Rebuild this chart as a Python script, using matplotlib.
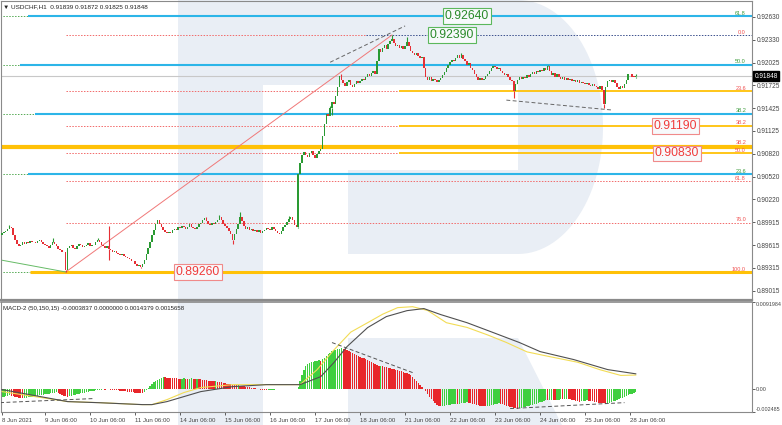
import matplotlib
matplotlib.use("Agg")
import matplotlib.pyplot as plt
import matplotlib.transforms as mtransforms
from matplotlib.patches import Polygon, Rectangle
import numpy as np

plt.rcParams['font.family'] = ['Liberation Sans', 'DejaVu Sans']

# USDCHF H1 closes (1e-4 units), 8 Jun 07:00 .. 28 Jun 09:00, one row per 06:00 tick
closes = [
    8977, 8979, 8980, 8983, 8986, 8984, 8975, 8968, 8963, 8960, 8962, 8965, 8963,
    8966, 8964, 8967, 8965, 8966, 8964, 8967, 8968, 8966, 8963,
    8962, 8960, 8958, 8962, 8966, 8963, 8960, 8957, 8955, 8953, 8952, 8928, 8958,
    8960, 8962, 8958, 8957, 8960, 8963, 8961, 8959, 8960, 8962, 8964,
    8960, 8962, 8961, 8965, 8968, 8966, 8962, 8960, 8958, 8960, 8957,
    8955, 8953, 8954, 8951, 8950, 8949, 8950, 8947, 8946, 8944, 8943, 8941, 8940,
    8937, 8934, 8935, 8933, 8936, 8942, 8950, 8958, 8966, 8975, 8982, 8990, 8995,
    8990, 8986, 8982, 8979, 8977, 8979, 8978, 8981, 8983, 8982, 8985,
    8984, 8987, 8986, 8983, 8986, 8989, 8986, 8984, 8983, 8986, 8989, 8991,
    8994, 8997, 8993, 8990, 8988, 8991, 8989, 8992, 8995, 8998, 8994, 8990,
    8987, 8984, 8980, 8976, 8968, 8976, 8983, 8990, 8999, 8993, 8987, 8983, 8985, 8981,
    8983, 8980, 8982, 8979, 8981, 8978, 8980, 8982, 8984, 8983,
    8982, 8985, 8983, 8980, 8978, 8976, 8980, 8985, 8988, 8992, 8996, 8999, 8994,
    8988, 8986, 9055, 9070, 9080, 9085, 9081, 9078, 9083, 9086, 9080,
    9077, 9082, 9086, 9088, 9105, 9122, 9135, 9132, 9142, 9150, 9148, 9158,
    9170, 9185, 9180, 9175, 9172, 9177, 9179, 9173, 9170, 9174, 9178, 9176,
    9178, 9181, 9179, 9184, 9187, 9185, 9189, 9192, 9188, 9205, 9220, 9216,
    9222, 9226, 9221, 9227, 9231, 9234, 9228, 9224, 9226, 9222, 9225, 9221,
    9224, 9230, 9225, 9218, 9215, 9213, 9215, 9211, 9208, 9210, 9196, 9183,
    9180, 9183, 9178, 9181, 9179, 9177, 9180, 9182, 9186, 9190, 9195, 9199,
    9203, 9206, 9204, 9209, 9212, 9208, 9213, 9207, 9204, 9200, 9202, 9196,
    9193, 9188, 9183, 9180, 9182, 9179, 9181, 9185, 9188, 9191, 9195, 9198,
    9197, 9194, 9196, 9192, 9189, 9186, 9188, 9183, 9180, 9178, 9165, 9174,
    9180, 9183, 9181, 9184, 9182, 9186, 9184, 9188, 9190, 9187, 9192, 9190,
    9193, 9191, 9195, 9193, 9198, 9191, 9186, 9189, 9184, 9188, 9183, 9181,
    9183, 9180, 9182, 9179, 9181, 9178, 9180, 9177, 9179, 9176, 9177, 9175,
    9174, 9176, 9173, 9171, 9174, 9172, 9170, 9168, 9171, 9167, 9148, 9170,
    9178, 9180, 9177, 9179, 9176, 9170, 9168, 9172, 9169, 9174, 9179, 9188,
    9187, 9184, 9183.9, 9184.8,
]
first_open = 8975
spike_highs = {4: 8988, 27: 8971, 51: 8971, 57: 8987, 109: 8999, 116: 9001, 127: 9005,
               153: 9000, 175: 9145, 181: 9188, 208: 9239, 216: 9236, 245: 9215,
               291: 9200, 338: 9187.2}
spike_lows = {34: 8926, 57: 8942, 74: 8931, 123: 8963, 158: 8984, 176: 9133,
              273: 9156, 321: 9143, 338: 9182.5}

# MACD-2 histogram (1e-4 units), one value per bar
macd_hist = [
    -9, -8.5, -8, -7.5, -7,
    -7.5, -8, -8.5, -9, -9.5, -10, -10.5,
    -10, -9.5, -9.3, -8.8, -8.6, -8.0, -7.8, -7.5, -7.0, -6.8, -6.5, -6.0, -5.9, -5.5, -5.0, -4.8, -4.5, -4.0,
    -4.5, -5.5, -6.5, -7.5, -8, -8.5,
    -8, -7.5, -7, -6.5, -6, -5.5, -5, -4.6, -4.2, -3.8, -3.4, -3, -2.6, -2.2, -1.8, -1.5, -1.2,
    -1, -0.8, -1, -0.7, -0.9, -1.1, -1.3,
    -1.5, -1.8, -2, -2.3, -2.5, -2.8, -3, -3.3, -3.5, -3.8, -4, -4.2, -4.4, -4.5, -4.6, -4.7,
    -3.5, -1.5, 0.5, 2.5, 4.5, 6.5, 8, 9.5, 10.5, 11.3, 12,
    11.8, 11.6, 11.4, 11.2, 11.0, 10.9, 10.8, 10.6, 10.5,
    10.7, 10.9, 10.6, 10.4, 10.6, 10.8, 10.5, 10.2, 10.4, 10.1,
    9.8, 9.5, 9.2, 9.0, 8.6, 8.3, 8.0, 7.7, 7.8, 7.4, 7.0, 6.6, 6.2, 5.8, 5.4, 5.0, 4.6, 4.2,
    3.8, 3.4, 3.6, 3.2, 2.8, 2.5, 2.2, 1.8, 1.5, 1.0, 0.6,
    0.2, -0.3, -0.7, -1, -1.3, -1.5, -1.7,
    -1.5, -1.3, -1.2, -1.0, -0.8, -0.7, -0.6, -0.5, -0.4, -0.3, -0.2, -0.1,
    0, -0.2, -0.3, -0.2,
    2, 8, 14, 20, 24, 26, 27.5, 28, 28.5, 29, 29.5, 30,
    29.6,
    31, 33, 35, 36.5, 38, 39.5, 40.5, 41.5, 42, 42.5, 43,
    42.5, 41.8, 41, 40, 39, 38, 37, 36, 35, 34,
    33, 32, 31, 30, 29, 28, 27, 26, 25, 24,
    24.5,
    23.5, 23, 22.5, 22, 21.5, 21, 20.5, 20, 19.5, 19, 18.5, 18, 17, 16.5, 16,
    14, 12, 10, 8, 6, 4, 2,
    -0.5, -3, -6, -9, -11.5, -13.5, -15.5, -17, -18, -19,
    -18.5, -18, -17.6, -17.2, -16.9, -16.6, -16.3, -16,
    -16.4,
    -16, -15.6, -15.3, -15, -14.7,
    -15, -15.5, -16, -16.5, -17, -17.5, -18, -18.5, -18.8, -19,
    -18.6, -18.2, -17.7, -17.2, -16.7, -16.2, -15.8,
    -16.2, -16.8, -17.4, -18, -18.6, -19.2, -19.8, -20.4, -21, -21.5,
    -21, -20.5, -20, -19.4, -18.9, -18.3, -17.8, -17.2, -16.6, -16, -15.3, -14.6, -13.9, -13, -12.2,
    -12.5, -12.1, -11.7, -12.0, -12.4, -12.0, -11.6, -11.2, -11.5, -11.1, -10.8,
    -11.1, -11.5, -12, -12.5, -13, -13.5, -14,
    -13.6, -13.1, -12.7, -12.3,
    -12.7, -13.1, -13.5, -14, -14.4, -14.8, -15.1, -15.4, -15.7, -16,
    -15.5, -15, -14.3, -13.5, -12.7, -12, -11.3,
    -10.5, -9.6, -8.7, -7.8, -7, -6.2, -5.4, -4.6, -3.8,
]
yellow_x = [0, 35, 52, 74, 80, 88, 97, 106, 123, 141, 159, 168, 177, 186, 195, 203, 211,
            219, 227, 237, 248, 259, 269, 280, 292, 307, 319, 330, 338]
yellow_v = [-3.2, -13.8, -14.9, -17, -17, -11.7, -4.2, 1.1, 4.2, 4.2, 4.2, 20, 41, 60, 70,
            79, 86, 87, 83, 70, 65, 57, 49, 39, 34, 28, 20, 14, 14.4]
gray_x = [0, 35, 52, 75, 80, 88, 106, 123, 141, 159, 170, 177, 184, 195, 205, 216, 225,
          234, 248, 262, 276, 287, 305, 323, 338]
gray_v = [-1, -13.8, -15, -17, -17, -13.8, -3.2, 2.1, 4.2, 4.2, 12.7, 27.6, 44.6, 64.8,
          76.5, 82.8, 85, 78.6, 70, 59.5, 48.9, 39.3, 30.8, 20.2, 15.7]

# levels
retr_levels = [0.92390, 0.91651, 0.91194, 0.90825, 0.90456, 0.89911, 0.89260]
retr_names = ['0.0', '23.6', '38.2', '50.0', '61.8', '76.0', '100.0']
ext_levels = [0.92640, 0.92000, 0.91353, 0.90553]
ext_names = ['61.8', '50.0', '38.2', '23.6']
ext_start = [14, 9.6, 17.6, 14]
extra_level = 0.90915
last_price = 0.91848

price_ticks = [0.92630, 0.92330, 0.92025, 0.91725, 0.91425, 0.91125, 0.90820,
               0.90520, 0.90220, 0.89915, 0.89615, 0.89315, 0.89015]
date_ticks = [0, 23, 47, 71, 95, 119, 143, 167, 191, 215, 239, 263, 287, 311, 335]
date_labels = ['8 Jun 2021', '9 Jun 06:00', '10 Jun 06:00', '11 Jun 06:00', '14 Jun 06:00',
               '15 Jun 06:00', '16 Jun 06:00', '17 Jun 06:00', '18 Jun 06:00', '21 Jun 06:00',
               '22 Jun 06:00', '23 Jun 06:00', '24 Jun 06:00', '25 Jun 06:00', '28 Jun 06:00']

# trend lines (bar, price)
fib_line = ([34, 208], [0.8926, 0.9239])
green_line = ([-1, 34], [0.8942, 0.8926])
top_dash = ([175, 215], [0.9203, 0.9251])
low_dash = ([269, 325], [0.9153, 0.9140])
macd_dash1 = ([176, 219], [48.9, 17])
macd_dash2 = ([271, 332], [-21.2, -14.9])
macd_dash3 = ([-1, 48.5], [-14.9, -10.6])

W, H = 782, 425
fig = plt.figure(figsize=(W / 100, H / 100), dpi=100)
fig.patch.set_facecolor('white')

# watermark
bg = fig.add_axes([0, 0, 1, 1])
bg.set_xlim(0, W)
bg.set_ylim(H, 0)
bg.axis('off')
wm = '#e9eef5'
bg.add_patch(Rectangle((178, 0), 85, H, color=wm, lw=0))
t = np.linspace(np.pi / 2, -np.pi / 2, 60)
arc = [(518 + 85 * np.cos(a), 127 - 127 * np.sin(a)) for a in t]
bowl = [(263, 0)] + arc + [(348, 254), (348, 170), (518, 170), (518, 85), (263, 85)]
bg.add_patch(Polygon(bowl, closed=True, color=wm, lw=0))
bg.add_patch(Polygon([(348, 338), (518, 338), (562, H), (348, H)], closed=True, color=wm, lw=0))

def px_axes(x0, y0, x1, y1):
    return fig.add_axes([x0 / W, 1 - y1 / H, (x1 - x0) / W, (y1 - y0) / H])

ax = px_axes(1, 1, 752, 300)
mx = px_axes(1, 302, 752, 412)
for a in (ax, mx):
    a.set_facecolor('none')
    a.set_zorder(2)
    a.set_xlim(-0.53, 400)
    for s in a.spines.values():
        s.set_color('#8a8a8a')
        s.set_linewidth(0.8)
    a.yaxis.tick_right()
    a.tick_params(axis='y', length=2, width=0.6, pad=1.5, labelsize=4.7, colors='#444444')

ax.set_ylim(0.88890, 0.92839)
ax.spines['bottom'].set_linewidth(1.6)
ax.set_xticks([])
ax.set_yticks(price_ticks)
ax.set_yticklabels(['%.5f' % v for v in price_ticks])

X_END = 400
red_dot = dict(color='#f26a6a', lw=0.7, linestyles=(0, (1.5, 1.5)))
# extension levels (cyan)
for lv, nm, x0 in zip(ext_levels, ext_names, ext_start):
    ax.hlines(lv, -1, x0, color='#55aa55', lw=0.7, linestyles=(0, (1.5, 1.5)))
    ax.hlines(lv, x0, X_END, color='#2cb5e8', lw=1.5)
    ax.text(396.8, lv + 0.00005, nm, color='#3a9a3a', fontsize=4, ha='right', va='bottom')

# retracement levels
for lv, nm in zip(retr_levels, retr_names):
    if nm == '0.0':
        ax.hlines(lv, 34, 194, **red_dot)
        ax.hlines(lv, 194, X_END, color='#3b4f8c', lw=0.7, linestyles=(0, (1.5, 1.5)))
    elif nm in ('23.6', '38.2', '50.0'):
        ax.hlines(lv, 34, 212, **red_dot)
        ax.hlines(lv, 212, X_END, color='#ffc107', lw=1.3)
    elif nm == '100.0':
        ax.hlines(lv, -1, 15, color='#55aa55', lw=0.7, linestyles=(0, (1.5, 1.5)))
        ax.hlines(lv, 15, X_END, color='#ffc107', lw=2.2)
    else:
        ax.hlines(lv, 34, X_END, **red_dot)
    ax.text(396.8, lv + 0.00005, nm, color='#f05050', fontsize=4, ha='right', va='bottom')

ax.hlines(extra_level, -1, X_END, color='#ffc107', lw=3.0)
ax.text(396.8, extra_level + 0.0002, '38.2', color='#f05050', fontsize=4, ha='right', va='bottom')
ax.hlines(last_price, -1, X_END, color='#c8c8c8', lw=0.8)

ax.plot(*fib_line, color='#f07878', lw=0.7)
ax.plot(*green_line, color='#66bb66', lw=0.7)
ax.plot(*top_dash, color='#666666', lw=0.7, dashes=(4, 2.5))
ax.plot(*low_dash, color='#666666', lw=0.7, dashes=(4, 2.5))

# candles
c = np.array(closes) * 1e-4
o = np.concatenate([[first_open * 1e-4], c[:-1]])
idx = np.arange(len(c))
up = c >= o
lo_b = np.minimum(o, c)
body = np.maximum(np.abs(c - o), 0.0001)
green, red = '#2a9a33', '#e62f35'
for i, hv in spike_highs.items():
    ax.vlines(i, max(o[i], c[i]), hv * 1e-4, color=green if up[i] else red, lw=0.8, zorder=3)
for i, lv in spike_lows.items():
    ax.vlines(i, lv * 1e-4, min(o[i], c[i]), color=green if up[i] else red, lw=0.8, zorder=3)
ax.bar(idx[up], body[up], bottom=lo_b[up], width=0.8, color=green, lw=0, zorder=3)
ax.bar(idx[~up], body[~up], bottom=lo_b[~up], width=0.8, color=red, lw=0, zorder=3)

# boxed price labels
def box(x, y, s, fg, edge):
    ax.text(x, y, s, fontsize=8.8, color=fg, ha='center', va='center', zorder=5,
            bbox=dict(boxstyle='square,pad=0.15', fc='#f7f9fb', ec=edge, lw=0.8))

box(248, 0.92640, '0.92640', '#2a8a2a', '#5cb85c')
box(240, 0.92390, '0.92390', '#2a8a2a', '#5cb85c')
box(359, 0.91185, '0.91190', '#f03c3c', '#f08a8a')
box(360, 0.90825, '0.90830', '#f03c3c', '#f08a8a')
box(104.5, 0.89260, '0.89260', '#f03c3c', '#f08a8a')

# last price tag on the axis
tr = mtransforms.blended_transform_factory(ax.transAxes, ax.transData)
ax.text(1.003, last_price, '%.5f' % last_price, transform=tr, fontsize=4.7, color='white',
        ha='left', va='center', zorder=6, clip_on=False,
        bbox=dict(boxstyle='square,pad=0.25', fc='black', ec='black'))

fig.text(3 / W, 1 - 6.5 / H, '\u25bc USDCHF,H1  0.91839 0.91872 0.91825 0.91848',
         fontsize=4.6, color='#222222', va='center', ha='left', zorder=5)

# MACD panel
h = np.array(macd_hist) * 1e-4
hcol = [('#3fcf3f' if (k == 0 or h[k] >= h[k - 1]) else '#e8262a') for k in range(len(h))]
mx.bar(np.arange(len(h)), h, width=0.75, color=hcol, lw=0, zorder=2)
mx.plot(yellow_x, np.array(yellow_v) * 1e-4, color='#f2dc55', lw=0.8, zorder=3)
mx.plot(gray_x, np.array(gray_v) * 1e-4, color='#505050', lw=0.8, zorder=3)
for xs, ys in (macd_dash1, macd_dash2, macd_dash3):
    mx.plot(xs, np.array(ys) * 1e-4, color='#555555', lw=0.7, dashes=(4, 2.5), zorder=3)
mx.set_ylim(-0.002485, 0.0091984)
mx.set_yticks([0.0091984, 0.0, -0.002485])
mx.set_yticklabels(['0.0091984', '0.00', '-0.002485'])
mx.tick_params(axis='y', labelsize=3.9, pad=1)
labs = mx.get_yticklabels()
labs[0].set_va('top')
labs[2].set_va('bottom')
mx.spines['top'].set_linewidth(1.2)
mx.set_xticks(date_ticks)
mx.set_xticklabels(date_labels, ha='left')
mx.tick_params(axis='x', length=2, width=0.6, pad=2, labelsize=4.4, colors='#444444')
mx.text(0.002, 0.96, 'MACD-2 (50,150,15) -0.0003837 0.0000000 0.0014379 0.0015658',
        transform=mx.transAxes, fontsize=4.4, color='#222222', va='top', ha='left')

fig.savefig('out.png', dpi=100)
